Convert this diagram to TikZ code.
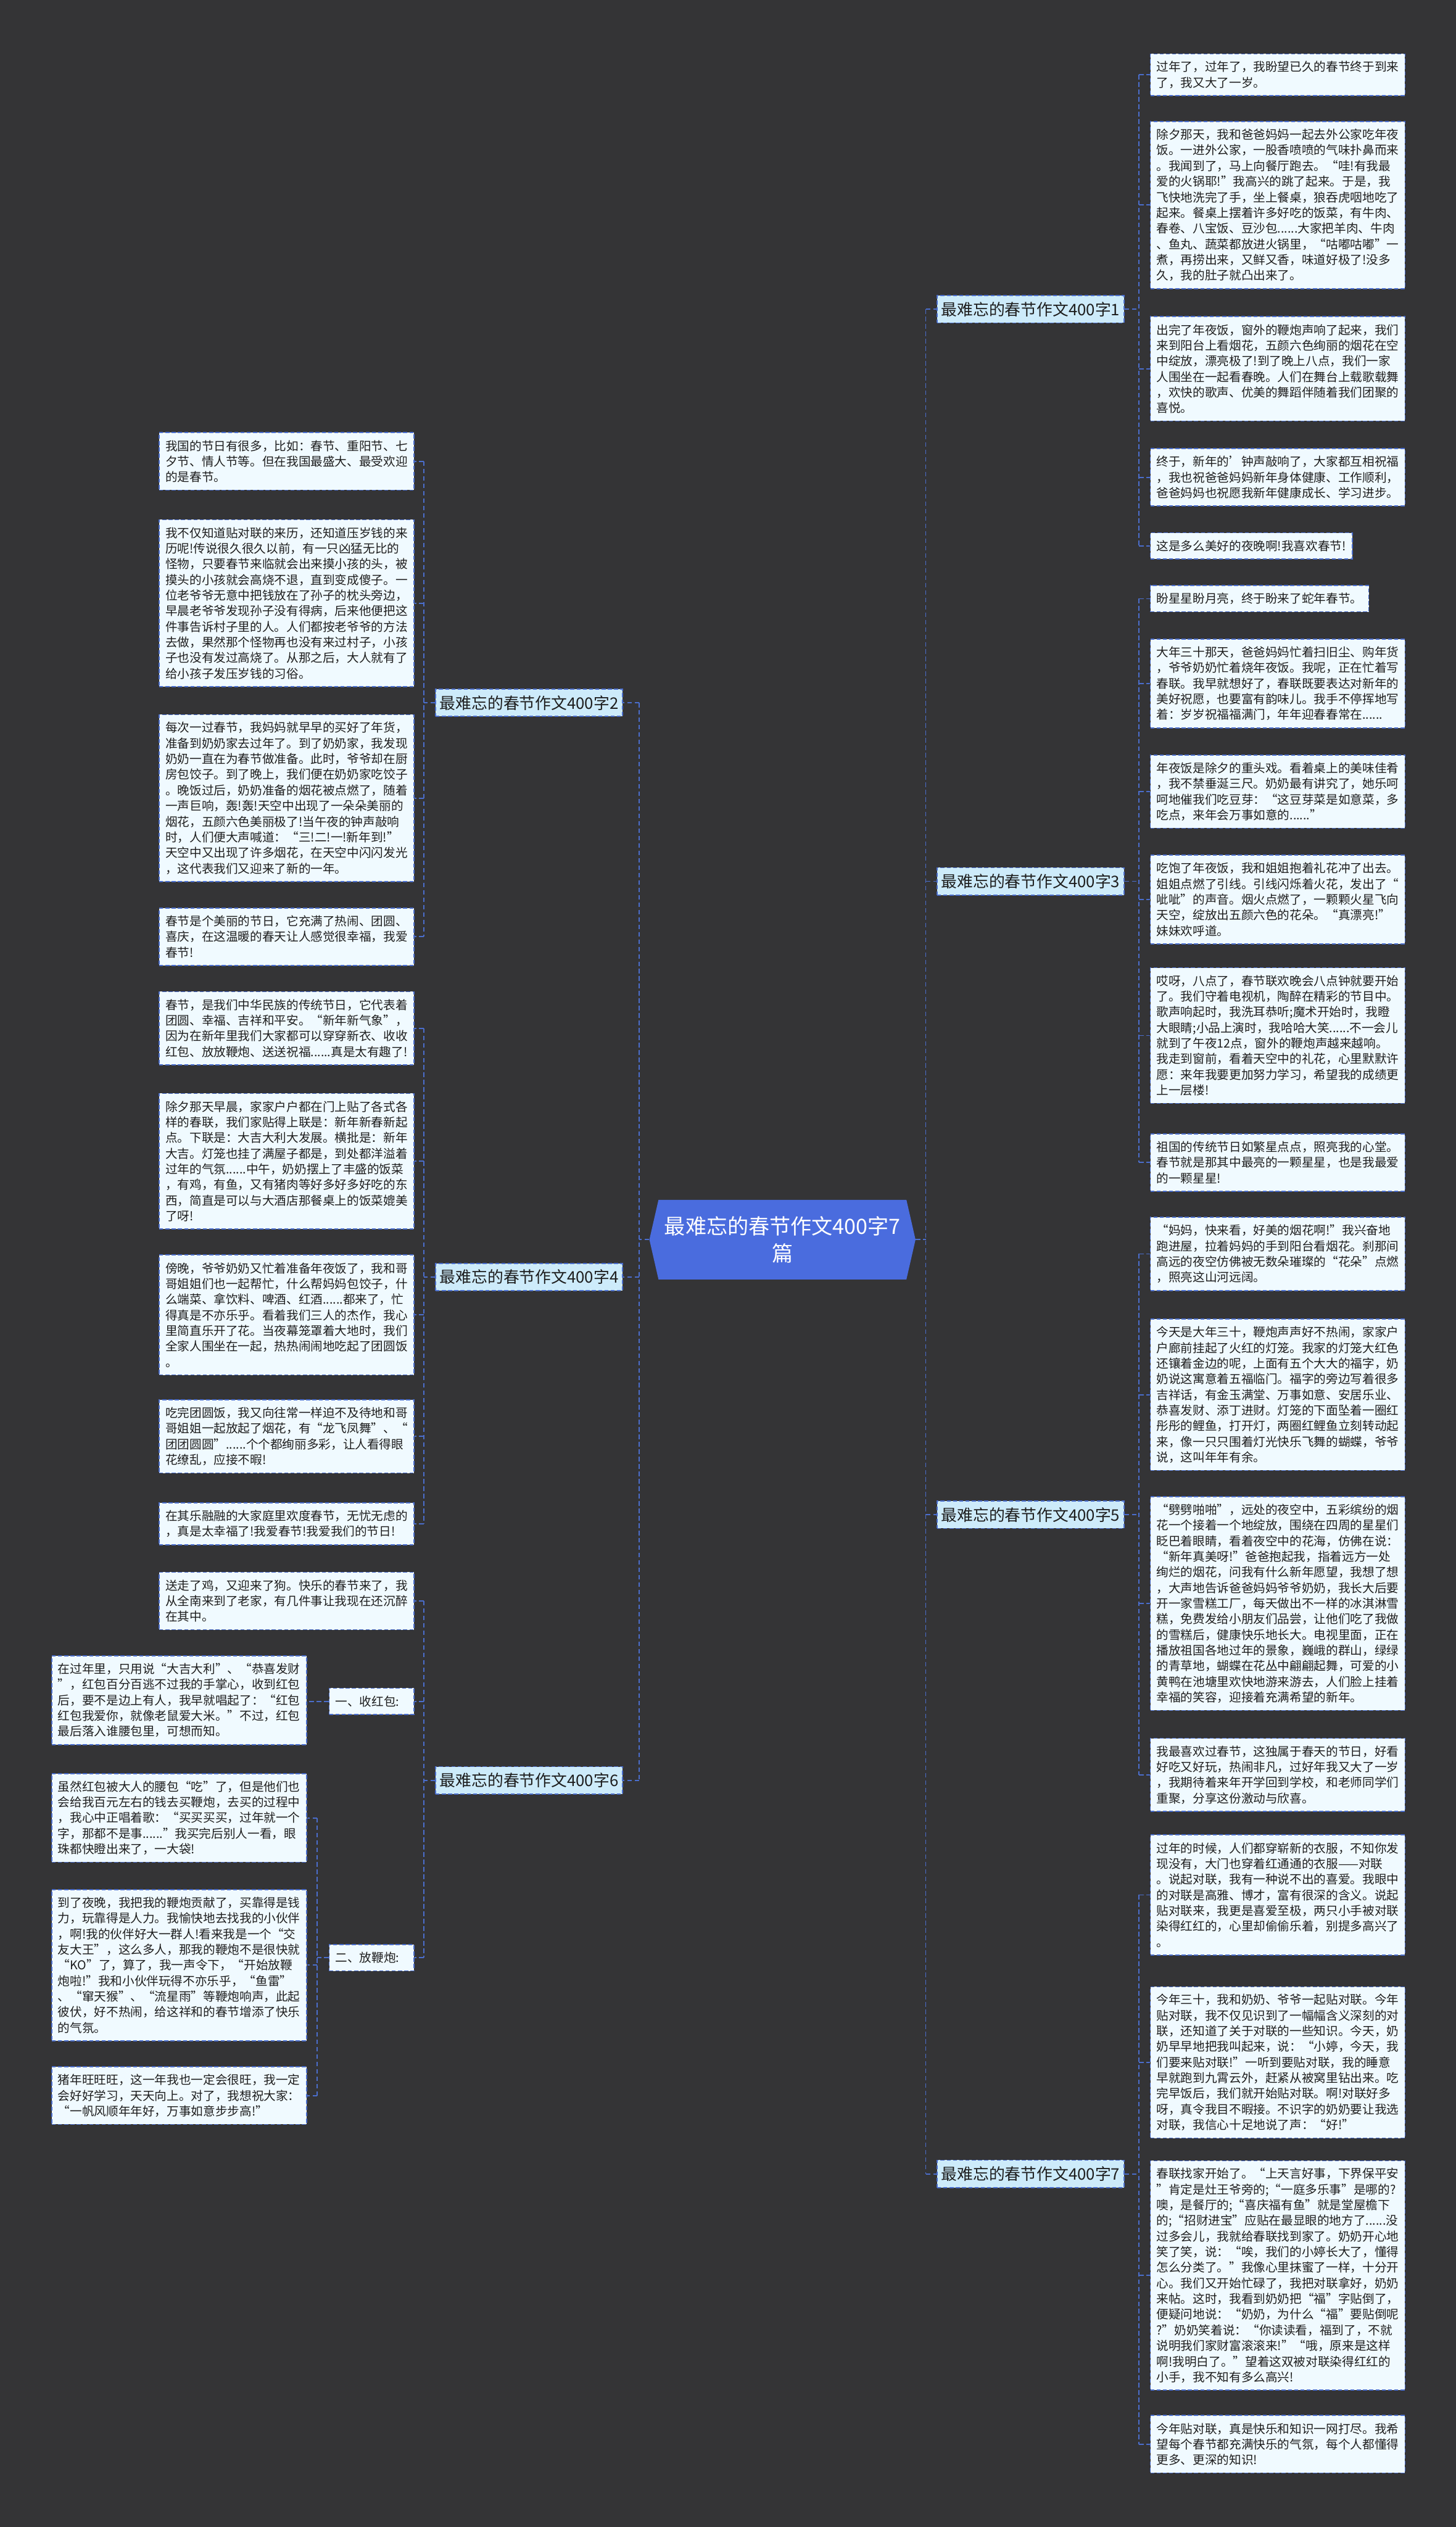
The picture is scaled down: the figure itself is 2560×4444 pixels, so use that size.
\documentclass[tikz,border=0pt]{standalone}
\usepackage{fontspec}
\setmainfont{Noto Sans CJK SC}
\definecolor{bgc}{RGB}{52,52,54}
\definecolor{boxfill}{RGB}{240,250,255}
\definecolor{lineblue}{RGB}{75,110,205}
\definecolor{brfill}{RGB}{205,235,250}
\definecolor{cfill}{RGB}{74,108,222}
\definecolor{textc}{RGB}{30,30,30}
\tikzset{
  txt/.style={draw=lineblue, line width=1.8pt, dash pattern=on 7pt off 4pt, fill=boxfill, text=textc,
    font=\fontsize{21.3}{27.5}\selectfont, inner xsep=11pt, inner ysep=3pt, anchor=north west, align=left},
  wbox/.style={txt, text width=426pt, minimum height=#1},
  nbox/.style={txt, minimum height=#1},
  labbox/.style={txt, text width=127pt, minimum height=46pt},
  branch/.style={draw=lineblue, line width=1.8pt, dash pattern=on 7pt off 4pt, fill=brfill, text=textc,
    font=\fontsize{28}{34}\selectfont, minimum width=329pt, minimum height=48pt, inner sep=0pt, anchor=north west},
  conn/.style={draw=lineblue, line width=2pt, dash pattern=on 8pt off 5pt},
}
\begin{document}
\begin{tikzpicture}[x=1pt,y=-1pt]
\fill[bgc] (0,0) rectangle (2560,4444);
\useasboundingbox (0,0) rectangle (2560,4444);

% centre
\fill[cfill] (1158,2110) -- (1594,2110) -- (1610,2180) -- (1594,2250) -- (1158,2250) -- (1142,2180) -- cycle;
\node[font=\fontsize{37}{48}\selectfont, text=white, align=center, minimum width=468pt, minimum height=140pt, inner sep=0pt] (root) at (1376,2180) {最难忘的春节作文400字7\\篇};

% branches
\node[branch] (br1) at (1647,519) {最难忘的春节作文400字1};
\node[branch] (br3) at (1647,1525) {最难忘的春节作文400字3};
\node[branch] (br5) at (1647,2639) {最难忘的春节作文400字5};
\node[branch] (br7) at (1647,3798) {最难忘的春节作文400字7};
\node[branch] (br2) at (765,1211) {最难忘的春节作文400字2};
\node[branch] (br4) at (765,2221) {最难忘的春节作文400字4};
\node[branch] (br6) at (765,3106) {最难忘的春节作文400字6};

% right column
\node[wbox=73.5pt] (B1) at (2022,94) {过年了，过年了，我盼望已久的春节终于到来\\了，我又大了一岁。};
\node[wbox=293.5pt] (B2) at (2022,213) {除夕那天，我和爸爸妈妈一起去外公家吃年夜\\饭。一进外公家，一股香喷喷的气味扑鼻而来\\。我闻到了，马上向餐厅跑去。“哇!有我最\\爱的火锅耶!”我高兴的跳了起来。于是，我\\飞快地洗完了手，坐上餐桌，狼吞虎咽地吃了\\起来。餐桌上摆着许多好吃的饭菜，有牛肉、\\春卷、八宝饭、豆沙包......大家把羊肉、牛肉\\、鱼丸、蔬菜都放进火锅里，“咕嘟咕嘟”一\\煮，再捞出来，又鲜又香，味道好极了!没多\\久，我的肚子就凸出来了。};
\node[wbox=183.5pt] (B3) at (2022,556) {出完了年夜饭，窗外的鞭炮声响了起来，我们\\来到阳台上看烟花，五颜六色绚丽的烟花在空\\中绽放，漂亮极了!到了晚上八点，我们一家\\人围坐在一起看春晚。人们在舞台上载歌载舞\\，欢快的歌声、优美的舞蹈伴随着我们团聚的\\喜悦。};
\node[wbox=101pt] (B4) at (2022,788) {终于，新年的'钟声敲响了，大家都互相祝福\\，我也祝爸爸妈妈新年身体健康、工作顺利，\\爸爸妈妈也祝愿我新年健康成长、学习进步。};
\node[nbox=46pt] (B5) at (2022,936) {这是多么美好的夜晚啊!我喜欢春节!};
\node[nbox=46pt] (B6) at (2022,1029) {盼星星盼月亮，终于盼来了蛇年春节。};
\node[wbox=156pt] (B7) at (2022,1123) {大年三十那天，爸爸妈妈忙着扫旧尘、购年货\\，爷爷奶奶忙着烧年夜饭。我呢，正在忙着写\\春联。我早就想好了，春联既要表达对新年的\\美好祝愿，也要富有韵味儿。我手不停挥地写\\着：岁岁祝福福满门，年年迎春春常在......};
\node[wbox=128.5pt] (B8) at (2022,1327) {年夜饭是除夕的重头戏。看着桌上的美味佳肴\\，我不禁垂涎三尺。奶奶最有讲究了，她乐呵\\呵地催我们吃豆芽：“这豆芽菜是如意菜，多\\吃点，来年会万事如意的......”};
\node[wbox=156pt] (B9) at (2022,1503) {吃饱了年夜饭，我和姐姐抱着礼花冲了出去。\\姐姐点燃了引线。引线闪烁着火花，发出了“\\呲呲”的声音。烟火点燃了，一颗颗火星飞向\\天空，绽放出五颜六色的花朵。“真漂亮!”\\妹妹欢呼道。};
\node[wbox=238.5pt] (B10) at (2022,1701) {哎呀，八点了，春节联欢晚会八点钟就要开始\\了。我们守着电视机，陶醉在精彩的节目中。\\歌声响起时，我洗耳恭听;魔术开始时，我瞪\\大眼睛;小品上演时，我哈哈大笑......不一会儿\\就到了午夜12点，窗外的鞭炮声越来越响。\\我走到窗前，看着天空中的礼花，心里默默许\\愿：来年我要更加努力学习，希望我的成绩更\\上一层楼!};
\node[wbox=101pt] (B11) at (2022,1993) {祖国的传统节日如繁星点点，照亮我的心堂。\\春节就是那其中最亮的一颗星星，也是我最爱\\的一颗星星!};
\node[wbox=128.5pt] (B12) at (2022,2140) {“妈妈，快来看，好美的烟花啊!”我兴奋地\\跑进屋，拉着妈妈的手到阳台看烟花。刹那间\\高远的夜空仿佛被无数朵璀璨的“花朵”点燃\\，照亮这山河远阔。};
\node[wbox=266pt] (B13) at (2022,2319) {今天是大年三十，鞭炮声声好不热闹，家家户\\户廊前挂起了火红的灯笼。我家的灯笼大红色\\还镶着金边的呢，上面有五个大大的福字，奶\\奶说这寓意着五福临门。福字的旁边写着很多\\吉祥话，有金玉满堂、万事如意、安居乐业、\\恭喜发财、添丁进财。灯笼的下面坠着一圈红\\彤彤的鲤鱼，打开灯，两圈红鲤鱼立刻转动起\\来，像一只只围着灯光快乐飞舞的蝴蝶，爷爷\\说，这叫年年有余。};
\node[wbox=376pt] (B14) at (2022,2631) {“劈劈啪啪”，远处的夜空中，五彩缤纷的烟\\花一个接着一个地绽放，围绕在四周的星星们\\眨巴着眼睛，看着夜空中的花海，仿佛在说：\\“新年真美呀!”爸爸抱起我，指着远方一处\\绚烂的烟花，问我有什么新年愿望，我想了想\\，大声地告诉爸爸妈妈爷爷奶奶，我长大后要\\开一家雪糕工厂，每天做出不一样的冰淇淋雪\\糕，免费发给小朋友们品尝，让他们吃了我做\\的雪糕后，健康快乐地长大。电视里面，正在\\播放祖国各地过年的景象，巍峨的群山，绿绿\\的青草地，蝴蝶在花丛中翩翩起舞，可爱的小\\黄鸭在池塘里欢快地游来游去，人们脸上挂着\\幸福的笑容，迎接着充满希望的新年。};
\node[wbox=128.5pt] (B15) at (2022,3056) {我最喜欢过春节，这独属于春天的节日，好看\\好吃又好玩，热闹非凡，过好年我又大了一岁\\，我期待着来年开学回到学校，和老师同学们\\重聚，分享这份激动与欣喜。};
\node[wbox=211pt] (B16) at (2022,3226) {过年的时候，人们都穿崭新的衣服，不知你发\\现没有，大门也穿着红通通的衣服——对联\\。说起对联，我有一种说不出的喜爱。我眼中\\的对联是高雅、博才，富有很深的含义。说起\\贴对联来，我更是喜爱至极，两只小手被对联\\染得红红的，心里却偷偷乐着，别提多高兴了\\。};
\node[wbox=266pt] (B17) at (2022,3493) {今年三十，我和奶奶、爷爷一起贴对联。今年\\贴对联，我不仅见识到了一幅幅含义深刻的对\\联，还知道了关于对联的一些知识。今天，奶\\奶早早地把我叫起来，说：“小婷，今天，我\\们要来贴对联!”一听到要贴对联，我的睡意\\早就跑到九霄云外，赶紧从被窝里钻出来。吃\\完早饭后，我们就开始贴对联。啊!对联好多\\呀，真令我目不暇接。不识字的奶奶要让我选\\对联，我信心十足地说了声：“好!”};
\node[wbox=403.5pt] (B18) at (2022,3799) {春联找家开始了。“上天言好事，下界保平安\\”肯定是灶王爷旁的;“一庭多乐事”是哪的?\\噢，是餐厅的;“喜庆福有鱼”就是堂屋檐下\\的;“招财进宝”应贴在最显眼的地方了......没\\过多会儿，我就给春联找到家了。奶奶开心地\\笑了笑，说：“唉，我们的小婷长大了，懂得\\怎么分类了。”我像心里抹蜜了一样，十分开\\心。我们又开始忙碌了，我把对联拿好，奶奶\\来帖。这时，我看到奶奶把“福”字贴倒了，\\便疑问地说：“奶奶，为什么“福”要贴倒呢\\?”奶奶笑着说：“你读读看，福到了，不就\\说明我们家财富滚滚来!”“哦，原来是这样\\啊!我明白了。”望着这双被对联染得红红的\\小手，我不知有多么高兴!};
\node[wbox=101pt] (B19) at (2022,4247) {今年贴对联，真是快乐和知识一网打尽。我希\\望每个春节都充满快乐的气氛，每个人都懂得\\更多、更深的知识!};

% left column
\node[wbox=101pt] (L1) at (279,760) {我国的节日有很多，比如：春节、重阳节、七\\夕节、情人节等。但在我国最盛大、最受欢迎\\的是春节。};
\node[wbox=293.5pt] (L2) at (279,913) {我不仅知道贴对联的来历，还知道压岁钱的来\\历呢!传说很久很久以前，有一只凶猛无比的\\怪物，只要春节来临就会出来摸小孩的头，被\\摸头的小孩就会高烧不退，直到变成傻子。一\\位老爷爷无意中把钱放在了孙子的枕头旁边，\\早晨老爷爷发现孙子没有得病，后来他便把这\\件事告诉村子里的人。人们都按老爷爷的方法\\去做，果然那个怪物再也没有来过村子，小孩\\子也没有发过高烧了。从那之后，大人就有了\\给小孩子发压岁钱的习俗。};
\node[wbox=293.5pt] (L3) at (279,1256) {每次一过春节，我妈妈就早早的买好了年货，\\准备到奶奶家去过年了。到了奶奶家，我发现\\奶奶一直在为春节做准备。此时，爷爷却在厨\\房包饺子。到了晚上，我们便在奶奶家吃饺子\\。晚饭过后，奶奶准备的烟花被点燃了，随着\\一声巨响，轰!轰!天空中出现了一朵朵美丽的\\烟花，五颜六色美丽极了!当午夜的钟声敲响\\时，人们便大声喊道：“三!二!一!新年到!”\\天空中又出现了许多烟花，在天空中闪闪发光\\，这代表我们又迎来了新的一年。};
\node[wbox=101pt] (L4) at (279,1596) {春节是个美丽的节日，它充满了热闹、团圆、\\喜庆，在这温暖的春天让人感觉很幸福，我爱\\春节!};
\node[wbox=128.5pt] (L5) at (279,1743) {春节，是我们中华民族的传统节日，它代表着\\团圆、幸福、吉祥和平安。“新年新气象”，\\因为在新年里我们大家都可以穿穿新衣、收收\\红包、放放鞭炮、送送祝福......真是太有趣了!};
\node[wbox=238.5pt] (L6) at (279,1922) {除夕那天早晨，家家户户都在门上贴了各式各\\样的春联，我们家贴得上联是：新年新春新起\\点。下联是：大吉大利大发展。横批是：新年\\大吉。灯笼也挂了满屋子都是，到处都洋溢着\\过年的气氛......中午，奶奶摆上了丰盛的饭菜\\，有鸡，有鱼，又有猪肉等好多好多好吃的东\\西，简直是可以与大酒店那餐桌上的饭菜媲美\\了呀!};
\node[wbox=211pt] (L7) at (279,2206) {傍晚，爷爷奶奶又忙着准备年夜饭了，我和哥\\哥姐姐们也一起帮忙，什么帮妈妈包饺子，什\\么端菜、拿饮料、啤酒、红酒......都来了，忙\\得真是不亦乐乎。看着我们三人的杰作，我心\\里简直乐开了花。当夜幕笼罩着大地时，我们\\全家人围坐在一起，热热闹闹地吃起了团圆饭\\。};
\node[wbox=128.5pt] (L8) at (279,2461) {吃完团圆饭，我又向往常一样迫不及待地和哥\\哥姐姐一起放起了烟花，有“龙飞凤舞”、“\\团团圆圆”......个个都绚丽多彩，让人看得眼\\花缭乱，应接不暇!};
\node[wbox=73.5pt] (L9) at (279,2642) {在其乐融融的大家庭里欢度春节，无忧无虑的\\，真是太幸福了!我爱春节!我爱我们的节日!};
\node[wbox=101pt] (L10) at (279,2764) {送走了鸡，又迎来了狗。快乐的春节来了，我\\从全南来到了老家，有几件事让我现在还沉醉\\在其中。};

% labels
\node[labbox] (lab1) at (578,2968) {一、收红包:};
\node[labbox] (lab2) at (578,3419) {二、放鞭炮:};

% lower left
\node[wbox=156pt] (LL1) at (90,2911) {在过年里，只用说“大吉大利”、“恭喜发财\\”，红包百分百逃不过我的手掌心，收到红包\\后，要不是边上有人，我早就唱起了：“红包\\红包我爱你，就像老鼠爱大米。”不过，红包\\最后落入谁腰包里，可想而知。};
\node[wbox=156pt] (LL2) at (90,3118) {虽然红包被大人的腰包“吃”了，但是他们也\\会给我百元左右的钱去买鞭炮，去买的过程中\\，我心中正唱着歌：“买买买买，过年就一个\\字，那都不是事......”我买完后别人一看，眼\\珠都快瞪出来了，一大袋!};
\node[wbox=266pt] (LL3) at (90,3322) {到了夜晚，我把我的鞭炮贡献了，买靠得是钱\\力，玩靠得是人力。我愉快地去找我的小伙伴\\，啊!我的伙伴好大一群人!看来我是一个“交\\友大王”，这么多人，那我的鞭炮不是很快就\\“KO”了，算了，我一声令下，“开始放鞭\\炮啦!”我和小伙伴玩得不亦乐乎，“鱼雷”\\、“窜天猴”、“流星雨”等鞭炮响声，此起\\彼伏，好不热闹，给这祥和的春节增添了快乐\\的气氛。};
\node[wbox=101pt] (LL4) at (90,3634) {猪年旺旺旺，这一年我也一定会很旺，我一定\\会好好学习，天天向上。对了，我想祝大家：\\“一帆风顺年年好，万事如意步步高!”};

% trunk coordinates
\coordinate (tRm) at (1628,0);
\coordinate (tLm) at (1124,0);
\coordinate (tR) at (2003,0);
\coordinate (tL) at (745,0);
\coordinate (tL2) at (558,0);

% centre to branches
\draw[conn] (root.east) -- (root.east -| tRm);
\draw[conn] (br1.west -| tRm) -- (br7.west -| tRm);
\foreach \b in {br1,br3,br5,br7} \draw[conn] (\b.west -| tRm) -- (\b.west);
\draw[conn] (root.west) -- (root.west -| tLm);
\draw[conn] (br2.east -| tLm) -- (br6.east -| tLm);
\foreach \b in {br2,br4,br6} \draw[conn] (\b.east -| tLm) -- (\b.east);

% right branches to children
\draw[conn] (br1.east) -- (br1.east -| tR);
\draw[conn] (B1.west -| tR) -- (B5.west -| tR);
\foreach \c in {B1,B2,B3,B4,B5} \draw[conn] (\c.west -| tR) -- (\c.west);
\draw[conn] (br3.east) -- (br3.east -| tR);
\draw[conn] (B6.west -| tR) -- (B11.west -| tR);
\foreach \c in {B6,B7,B8,B9,B10,B11} \draw[conn] (\c.west -| tR) -- (\c.west);
\draw[conn] (br5.east) -- (br5.east -| tR);
\draw[conn] (B12.west -| tR) -- (B15.west -| tR);
\foreach \c in {B12,B13,B14,B15} \draw[conn] (\c.west -| tR) -- (\c.west);
\draw[conn] (br7.east) -- (br7.east -| tR);
\draw[conn] (B16.west -| tR) -- (B19.west -| tR);
\foreach \c in {B16,B17,B18,B19} \draw[conn] (\c.west -| tR) -- (\c.west);

% left branches to children
\draw[conn] (br2.west) -- (br2.west -| tL);
\draw[conn] (L1.east -| tL) -- (L4.east -| tL);
\foreach \c in {L1,L2,L3,L4} \draw[conn] (\c.east -| tL) -- (\c.east);
\draw[conn] (br4.west) -- (br4.west -| tL);
\draw[conn] (L5.east -| tL) -- (L9.east -| tL);
\foreach \c in {L5,L6,L7,L8,L9} \draw[conn] (\c.east -| tL) -- (\c.east);
\draw[conn] (br6.west) -- (br6.west -| tL);
\draw[conn] (L10.east -| tL) -- (lab2.east -| tL);
\foreach \c in {L10,lab1,lab2} \draw[conn] (\c.east -| tL) -- (\c.east);

% labels to children
\draw[conn] (lab1.west) -- (lab1.west -| LL1.east);
\draw[conn] (lab2.west) -- (lab2.west -| tL2);
\draw[conn] (LL2.east -| tL2) -- (LL4.east -| tL2);
\foreach \c in {LL2,LL3,LL4} \draw[conn] (\c.east -| tL2) -- (\c.east);
\end{tikzpicture}
\end{document}
